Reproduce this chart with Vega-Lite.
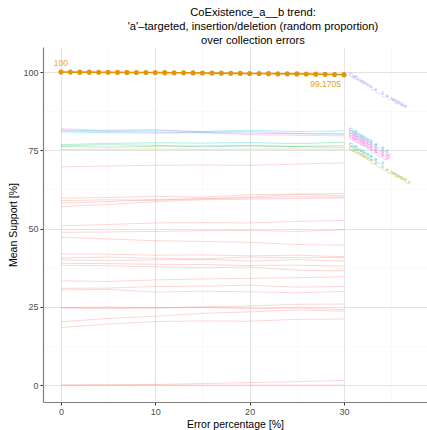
{
  "$schema": "https://vega.github.io/schema/vega-lite/v6.json",
  "autosize": {"type": "none"},
  "width": 384,
  "height": 355,
  "padding": {"left": 43, "top": 47, "right": 0, "bottom": 28},
  "background": "white",
  "config": {
    "font": "Liberation Sans",
    "view": {"stroke": null},
    "axis": {"labelFont": "Liberation Sans", "titleFont": "Liberation Sans"}
  },
  "title": {
    "text": ["CoExistence_a__b trend:", "'a'\u2013targeted, insertion/deletion (random proportion)", "over collection errors"],
    "fontSize": 11.2,
    "fontWeight": "normal",
    "color": "#000000",
    "anchor": "middle",
    "lineHeight": 14,
    "offset": 1,
    "dx": 18
  },
  "datasets": {
    "faint": [
      {"s":"s1","x":0,"y":81.9},{"s":"s1","x":5,"y":81.4},{"s":"s1","x":10,"y":81.6},{"s":"s1","x":15,"y":80.9},{"s":"s1","x":20,"y":81.0},{"s":"s1","x":25,"y":80.4},{"s":"s1","x":30,"y":80.3},
      {"s":"s2","x":0,"y":81.5},{"s":"s2","x":5,"y":81.2},{"s":"s2","x":10,"y":81.3},{"s":"s2","x":15,"y":81.0},{"s":"s2","x":20,"y":81.4},{"s":"s2","x":25,"y":81.0},{"s":"s2","x":30,"y":81.2},
      {"s":"s3","x":0,"y":81.2},{"s":"s3","x":5,"y":81.0},{"s":"s3","x":10,"y":80.8},{"s":"s3","x":15,"y":80.6},{"s":"s3","x":20,"y":80.0},{"s":"s3","x":25,"y":79.8},{"s":"s3","x":30,"y":79.6},
      {"s":"s4","x":0,"y":80.9},{"s":"s4","x":5,"y":80.6},{"s":"s4","x":10,"y":80.5},{"s":"s4","x":15,"y":80.7},{"s":"s4","x":20,"y":80.5},{"s":"s4","x":25,"y":80.3},{"s":"s4","x":30,"y":80.1},
      {"s":"s5","x":0,"y":76.8},{"s":"s5","x":5,"y":77.2},{"s":"s5","x":10,"y":77.4},{"s":"s5","x":15,"y":77.3},{"s":"s5","x":20,"y":77.5},{"s":"s5","x":25,"y":77.1},{"s":"s5","x":30,"y":77.6},
      {"s":"s6","x":0,"y":76.4},{"s":"s6","x":5,"y":76.8},{"s":"s6","x":10,"y":76.6},{"s":"s6","x":15,"y":76.1},{"s":"s6","x":20,"y":76.4},{"s":"s6","x":25,"y":76.2},{"s":"s6","x":30,"y":75.9},
      {"s":"s7","x":0,"y":76.2},{"s":"s7","x":5,"y":76.0},{"s":"s7","x":10,"y":76.3},{"s":"s7","x":15,"y":76.4},{"s":"s7","x":20,"y":76.5},{"s":"s7","x":25,"y":76.2},{"s":"s7","x":30,"y":76.5},
      {"s":"s8","x":0,"y":75.3},{"s":"s8","x":5,"y":75.3},{"s":"s8","x":10,"y":75.4},{"s":"s8","x":15,"y":75.3},{"s":"s8","x":20,"y":75.4},{"s":"s8","x":25,"y":75.4},{"s":"s8","x":30,"y":75.3},
      {"s":"s9","x":0,"y":69.7},{"s":"s9","x":5,"y":70.0},{"s":"s9","x":10,"y":70.2},{"s":"s9","x":15,"y":70.3},{"s":"s9","x":20,"y":70.2},{"s":"s9","x":25,"y":70.6},{"s":"s9","x":30,"y":71.0},
      {"s":"s10","x":0,"y":59.7},{"s":"s10","x":5,"y":59.9},{"s":"s10","x":10,"y":60.3},{"s":"s10","x":15,"y":60.0},{"s":"s10","x":20,"y":60.8},{"s":"s10","x":25,"y":61.0},{"s":"s10","x":30,"y":61.2},
      {"s":"s11","x":0,"y":58.9},{"s":"s11","x":5,"y":59.2},{"s":"s11","x":10,"y":59.0},{"s":"s11","x":15,"y":59.6},{"s":"s11","x":20,"y":60.1},{"s":"s11","x":25,"y":60.9},{"s":"s11","x":30,"y":60.5},
      {"s":"s12","x":0,"y":58.2},{"s":"s12","x":5,"y":58.6},{"s":"s12","x":10,"y":59.3},{"s":"s12","x":15,"y":59.5},{"s":"s12","x":20,"y":59.8},{"s":"s12","x":25,"y":60.2},{"s":"s12","x":30,"y":60.0},
      {"s":"s13","x":0,"y":57.0},{"s":"s13","x":5,"y":57.7},{"s":"s13","x":10,"y":58.6},{"s":"s13","x":15,"y":59.2},{"s":"s13","x":20,"y":59.4},{"s":"s13","x":25,"y":59.6},{"s":"s13","x":30,"y":59.8},
      {"s":"s14","x":0,"y":50.9},{"s":"s14","x":5,"y":51.3},{"s":"s14","x":10,"y":51.8},{"s":"s14","x":15,"y":51.9},{"s":"s14","x":20,"y":51.8},{"s":"s14","x":25,"y":52.3},{"s":"s14","x":30,"y":52.6},
      {"s":"s15","x":0,"y":48.8},{"s":"s15","x":5,"y":48.9},{"s":"s15","x":10,"y":49.1},{"s":"s15","x":15,"y":49.3},{"s":"s15","x":20,"y":49.4},{"s":"s15","x":25,"y":49.1},{"s":"s15","x":30,"y":49.6},
      {"s":"s16","x":0,"y":47.2},{"s":"s16","x":5,"y":46.7},{"s":"s16","x":10,"y":46.1},{"s":"s16","x":15,"y":45.9},{"s":"s16","x":20,"y":45.6},{"s":"s16","x":25,"y":44.9},{"s":"s16","x":30,"y":44.7},
      {"s":"s17","x":0,"y":41.9},{"s":"s17","x":5,"y":41.8},{"s":"s17","x":10,"y":41.5},{"s":"s17","x":15,"y":41.6},{"s":"s17","x":20,"y":41.3},{"s":"s17","x":25,"y":41.5},{"s":"s17","x":30,"y":41.0},
      {"s":"s18","x":0,"y":40.6},{"s":"s18","x":5,"y":40.9},{"s":"s18","x":10,"y":40.5},{"s":"s18","x":15,"y":40.3},{"s":"s18","x":20,"y":40.9},{"s":"s18","x":25,"y":40.7},{"s":"s18","x":30,"y":40.8},
      {"s":"s19","x":0,"y":40.0},{"s":"s19","x":5,"y":39.8},{"s":"s19","x":10,"y":40.0},{"s":"s19","x":15,"y":40.2},{"s":"s19","x":20,"y":39.6},{"s":"s19","x":25,"y":40.1},{"s":"s19","x":30,"y":39.6},
      {"s":"s20","x":0,"y":38.9},{"s":"s20","x":5,"y":38.8},{"s":"s20","x":10,"y":38.6},{"s":"s20","x":15,"y":38.5},{"s":"s20","x":20,"y":38.2},{"s":"s20","x":25,"y":38.3},{"s":"s20","x":30,"y":38.0},
      {"s":"s21","x":0,"y":38.3},{"s":"s21","x":5,"y":38.1},{"s":"s21","x":10,"y":37.8},{"s":"s21","x":15,"y":37.5},{"s":"s21","x":20,"y":37.7},{"s":"s21","x":25,"y":36.7},{"s":"s21","x":30,"y":36.5},
      {"s":"s22","x":0,"y":33.3},{"s":"s22","x":5,"y":33.1},{"s":"s22","x":10,"y":33.6},{"s":"s22","x":15,"y":33.9},{"s":"s22","x":20,"y":34.1},{"s":"s22","x":25,"y":34.3},{"s":"s22","x":30,"y":34.6},
      {"s":"s23","x":0,"y":30.9},{"s":"s23","x":5,"y":31.0},{"s":"s23","x":10,"y":31.5},{"s":"s23","x":15,"y":31.6},{"s":"s23","x":20,"y":31.9},{"s":"s23","x":25,"y":31.3},{"s":"s23","x":30,"y":31.5},
      {"s":"s24","x":0,"y":30.4},{"s":"s24","x":5,"y":30.6},{"s":"s24","x":10,"y":29.7},{"s":"s24","x":15,"y":30.0},{"s":"s24","x":20,"y":29.8},{"s":"s24","x":25,"y":29.5},{"s":"s24","x":30,"y":29.9},
      {"s":"s25","x":0,"y":24.8},{"s":"s25","x":5,"y":24.9},{"s":"s25","x":10,"y":24.7},{"s":"s25","x":15,"y":25.0},{"s":"s25","x":20,"y":25.3},{"s":"s25","x":25,"y":25.8},{"s":"s25","x":30,"y":25.9},
      {"s":"s26","x":0,"y":24.6},{"s":"s26","x":5,"y":24.4},{"s":"s26","x":10,"y":24.6},{"s":"s26","x":15,"y":24.8},{"s":"s26","x":20,"y":24.4},{"s":"s26","x":25,"y":24.6},{"s":"s26","x":30,"y":24.1},
      {"s":"s27","x":0,"y":20.2},{"s":"s27","x":5,"y":21.3},{"s":"s27","x":10,"y":22.0},{"s":"s27","x":15,"y":22.9},{"s":"s27","x":20,"y":23.4},{"s":"s27","x":25,"y":24.0},{"s":"s27","x":30,"y":23.6},
      {"s":"s28","x":0,"y":18.4},{"s":"s28","x":5,"y":19.5},{"s":"s28","x":10,"y":20.3},{"s":"s28","x":15,"y":20.5},{"s":"s28","x":20,"y":20.4},{"s":"s28","x":25,"y":21.0},{"s":"s28","x":30,"y":21.1},
      {"s":"s29","x":0,"y":0},{"s":"s29","x":5,"y":0},{"s":"s29","x":10,"y":0},{"s":"s29","x":15,"y":0},{"s":"s29","x":20,"y":0},{"s":"s29","x":25,"y":0},{"s":"s29","x":30,"y":0},
      {"s":"s30","x":0,"y":0},{"s":"s30","x":5,"y":0.1},{"s":"s30","x":10,"y":0.2},{"s":"s30","x":15,"y":0.5},{"s":"s30","x":20,"y":0.8},{"s":"s30","x":25,"y":1.1},{"s":"s30","x":30,"y":1.5}
    ],
    "main": [
      {"x":0,"y":100},{"x":1,"y":99.99},{"x":2,"y":99.97},{"x":3,"y":99.96},{"x":4,"y":99.94},{"x":5,"y":99.93},{"x":6,"y":99.91},{"x":7,"y":99.89},{"x":8,"y":99.87},{"x":9,"y":99.86},
      {"x":10,"y":99.84},{"x":11,"y":99.81},{"x":12,"y":99.78},{"x":13,"y":99.76},{"x":14,"y":99.73},{"x":15,"y":99.70},{"x":16,"y":99.67},{"x":17,"y":99.64},{"x":18,"y":99.61},{"x":19,"y":99.58},
      {"x":20,"y":99.55},{"x":21,"y":99.52},{"x":22,"y":99.49},{"x":23,"y":99.46},{"x":24,"y":99.43},{"x":25,"y":99.40},{"x":26,"y":99.36},{"x":27,"y":99.32},{"x":28,"y":99.28},{"x":29,"y":99.23},{"x":30,"y":99.1705}
    ],
    "tags": [
      {"s":"t1","x":30.5,"y":99.3,"label":"CoExistence_a__b_a_targeted"},
      {"s":"s2","x":30.5,"y":81.8,"label":"CoExistence_a__b_x"},
      {"s":"s1","x":30.5,"y":81.0,"label":"CoExistence_a__b_xy"},
      {"s":"s3","x":30.5,"y":80.2,"label":"CoExistence_a__b_xy"},
      {"s":"s1","x":30.5,"y":79.3,"label":"CoExistence_a__b_x"},
      {"s":"s6","x":30.5,"y":77.0,"label":"CoExistence_a__b"},
      {"s":"s8","x":30.5,"y":75.8,"label":"CoExistence_a__b_a_targeted_z"}
    ]
  },
  "encoding": {
    "x": {
      "field": "x", "type": "quantitative",
      "scale": {"domain": [-1.9, 38.8], "nice": false, "zero": false},
      "axis": {
        "title": "Error percentage [%]",
        "titleFontSize": 10.5, "titleFontWeight": "normal", "titleColor": "#000000", "titlePadding": 3,
        "values": [0, 5, 10, 15, 20, 25, 30, 35],
        "labelExpr": "datum.value % 10 == 0 ? datum.label : ''",
        "labelFontSize": 9, "labelColor": "#4D4D4D", "labelPadding": 2,
        "domainColor": "#7F7F7F", "domainWidth": 1.2,
        "tickColor": {"condition": {"test": "datum.value % 10 != 0", "value": "transparent"}, "value": "#333333"},
        "tickSize": 3,
        "grid": true,
        "gridColor": {"condition": {"test": "datum.value % 10 != 0", "value": "#F5F5F5"}, "value": "#E3E3E3"},
        "gridWidth": {"condition": {"test": "datum.value % 10 != 0", "value": 0.6}, "value": 1.1}
      }
    },
    "y": {
      "field": "y", "type": "quantitative",
      "scale": {"domain": [-5.4, 108], "nice": false, "zero": false},
      "axis": {
        "title": "Mean Support [%]",
        "titleFontSize": 10.5, "titleFontWeight": "normal", "titleColor": "#000000", "titlePadding": 4,
        "values": [0, 12.5, 25, 37.5, 50, 62.5, 75, 87.5, 100],
        "labelExpr": "datum.value % 25 == 0 ? datum.label : ''",
        "labelFontSize": 9, "labelColor": "#4D4D4D", "labelPadding": 2,
        "domainColor": "#7F7F7F", "domainWidth": 1.2,
        "tickColor": {"condition": {"test": "datum.value % 25 != 0", "value": "transparent"}, "value": "#333333"},
        "tickSize": 3,
        "grid": true,
        "gridColor": {"condition": {"test": "datum.value % 25 != 0", "value": "#F5F5F5"}, "value": "#E3E3E3"},
        "gridWidth": {"condition": {"test": "datum.value % 25 != 0", "value": 0.6}, "value": 1.1}
      }
    }
  },
  "layer": [
    {
      "data": {"name": "faint"},
      "mark": {"type": "line", "strokeWidth": 1, "strokeOpacity": 0.3},
      "encoding": {
        "detail": {"field": "s"},
        "color": {
          "field": "s", "type": "nominal", "legend": null,
          "scale": {
            "domain": ["t1","s1","s2","s3","s4","s5","s6","s7","s8","s9","s10","s11","s12","s13","s14","s15","s16","s17","s18","s19","s20","s21","s22","s23","s24","s25","s26","s27","s28","s29","s30"],
            "range": ["#8F8CF0","#E76BF3","#00BFC4","#FF61C3","#00B0F6","#00BF7D","#00BFC4","#39B600","#A3A500","#F8766D","#F8766D","#F8766D","#F8766D","#F8766D","#F8766D","#F8766D","#F8766D","#F8766D","#F8766D","#F8766D","#F8766D","#F8766D","#F8766D","#F8766D","#F8766D","#F8766D","#F8766D","#F8766D","#F8766D","#F8766D","#F8766D"]
          }
        }
      }
    },
    {
      "data": {"name": "tags"},
      "mark": {"type": "text", "fontSize": 4.8, "angle": 30, "align": "left", "baseline": "middle", "opacity": 0.9},
      "encoding": {
        "text": {"field": "label"},
        "color": {"field": "s", "type": "nominal", "legend": null}
      }
    },
    {
      "data": {"name": "main"},
      "mark": {"type": "line", "color": "#E39508", "strokeWidth": 1.6},
      "encoding": {}
    },
    {
      "data": {"name": "main"},
      "mark": {"type": "point", "filled": true, "color": "#E39508", "size": 26, "opacity": 1},
      "encoding": {}
    },
    {
      "data": {"name": "main"},
      "transform": [{"filter": "datum.x == 0"}],
      "mark": {"type": "text", "fontSize": 8.5, "color": "#EBA83A", "dy": -9, "align": "center"},
      "encoding": {"text": {"value": "100"}}
    },
    {
      "data": {"name": "main"},
      "transform": [{"filter": "datum.x == 30"}],
      "mark": {"type": "text", "fontSize": 8.5, "color": "#E39A1A", "dy": 9, "dx": -3, "align": "right"},
      "encoding": {"text": {"value": "99.1705"}}
    }
  ]
}
